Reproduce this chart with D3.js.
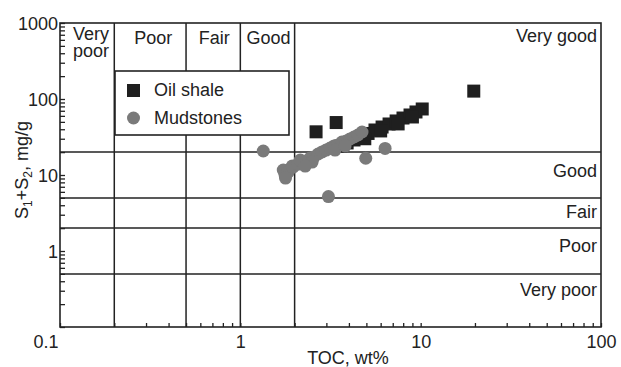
<!DOCTYPE html>
<html>
<head>
<meta charset="utf-8">
<script src="https://cdn.jsdelivr.net/npm/d3@7"></script>
<style>
  body { margin: 0; background: #fff; }
  text { font-family: "Liberation Sans", Arial, sans-serif; fill: #222; }
</style>
</head>
<body>
<div id="chart"></div>
<script>
// oil shale samples: TOC (wt%) and S1+S2 (mg/g)
var shaleToc = [19.7, 3.4, 2.63, 3.57, 3.91, 4.27, 4.67, 5.11, 5.58, 6.11, 6.68, 7.31, 7.98, 8.73, 9.42, 10.2, 4.9, 6.0, 7.5, 9.0];
var shaleS = [127, 49, 37, 24.0, 26.4, 28.9, 32.1, 35.2, 39.1, 42.8, 46.9, 51.4, 56.2, 61.6, 67.5, 73.9, 30, 38, 47, 58];

// mudstone samples
var mudToc = [1.34, 3.08, 4.96, 6.35, 1.77, 1.73, 1.84, 1.78, 1.94,
	1.96, 2.09, 2.20, 2.31, 2.44, 2.56, 2.70, 2.84, 2.99, 3.15, 3.31, 3.48, 3.66, 3.86, 4.06, 4.27, 4.49, 4.73,
	2.15, 2.50, 3.35, 3.81, 2.29];
var mudS = [20.7, 5.2, 16.6, 22.4, 10.0, 11.6, 10.9, 9.1, 13.1,
	12.7, 13.9, 14.4, 15.3, 16.7, 17.3, 18.9, 20.1, 21.3, 22.6, 24.1, 24.8, 27.2, 28.0, 29.8, 31.6, 33.6, 36.8,
	15.7, 14.8, 21.3, 24.1, 13.1];

// class boundaries
var tocLimits = [0.2, 0.5, 1, 2];
var sLimits = [20, 5, 2, 0.5];

var tocClasses = ["Poor", "Fair", "Good"];
var sClasses = ["Very good", "Good", "Fair", "Poor", "Very poor"];
var xTickLabels = ["0.1", "1", "10", "100"];
var yTickLabels = ["1", "10", "100", "1000"];

var width = 621, height = 367;
var pLeft = 60, pRight = 601, pTop = 23, pBottom = 327;
var ink = "#222";
var fs = 18;

var svg = d3.select("#chart").append("svg")
	.attr("width", width)
	.attr("height", height);

var x = d3.scaleLog().domain([0.1, 100]).range([pLeft, pRight]);
var y = d3.scaleLog().domain([0.1, 1000]).range([pBottom, pTop]);

// ticks
var xAxis = svg.append("g")
	.attr("transform", "translate(0," + pBottom + ")")
	.call(d3.axisBottom(x).tickSize(-4).tickPadding(7)
		.tickFormat(function(d) { var s = d3.format("~g")(d); return xTickLabels.indexOf(s) >= 0 ? s : ""; }));
var yAxis = svg.append("g")
	.attr("transform", "translate(" + pLeft + ",0)")
	.call(d3.axisLeft(y).tickSize(-5).tickPadding(2)
		.tickFormat(function(d) { var s = d3.format("~g")(d); return yTickLabels.indexOf(s) >= 0 ? s : ""; }));

[xAxis, yAxis].forEach(function(g) {
	g.select(".domain").remove();
	g.selectAll(".tick line").attr("stroke", ink).attr("stroke-width", 1.3);
	g.selectAll(".tick text").attr("font-size", fs).attr("fill", ink)
		.style("font-family", "'Liberation Sans', Arial, sans-serif");
});
xAxis.selectAll(".tick text").attr("dy", "0.8em");
xAxis.selectAll(".tick text").filter(function(d) { return d === 0.1; })
	.attr("text-anchor", "end").attr("dx", -2);
yAxis.selectAll(".tick text").attr("dy", "0.36em");

// class lines
svg.selectAll(".vline").data(tocLimits).enter().append("line")
	.attr("x1", function(d) { return x(d); })
	.attr("x2", function(d) { return x(d); })
	.attr("y1", pTop).attr("y2", pBottom)
	.attr("stroke", ink).attr("stroke-width", 1.5);
svg.selectAll(".hline").data(sLimits).enter().append("line")
	.attr("x1", pLeft).attr("x2", pRight)
	.attr("y1", function(d) { return y(d); })
	.attr("y2", function(d) { return y(d); })
	.attr("stroke", ink).attr("stroke-width", 1.5);

// frame
svg.append("rect")
	.attr("x", pLeft).attr("y", pTop)
	.attr("width", pRight - pLeft).attr("height", pBottom - pTop)
	.attr("fill", "none").attr("stroke", ink).attr("stroke-width", 1.6);

// class labels along the top
var topLabels = svg.append("g").attr("font-size", fs);
topLabels.append("text").attr("x", 73).attr("y", 40).text("Very");
topLabels.append("text").attr("x", 73).attr("y", 57).text("poor");
tocClasses.forEach(function(name, i) {
	topLabels.append("text")
		.attr("x", (x(tocLimits[i]) + x(tocLimits[i + 1])) / 2 + (i === 0 ? 3 : 1))
		.attr("y", 44)
		.attr("text-anchor", "middle")
		.text(name);
});

// class labels on the right
var rightY = [42, 177, 218, 252, 296];
sClasses.forEach(function(name, i) {
	svg.append("text")
		.attr("x", 597).attr("y", rightY[i])
		.attr("text-anchor", "end").attr("font-size", fs)
		.text(name);
});

// legend
svg.append("rect")
	.attr("x", 115).attr("y", 71).attr("width", 174).attr("height", 64)
	.attr("fill", "#fff").attr("stroke", ink).attr("stroke-width", 1.6);
svg.append("rect")
	.attr("x", 127).attr("y", 84).attr("width", 13).attr("height", 13)
	.attr("fill", "#1f1f1f");
svg.append("circle")
	.attr("cx", 133.5).attr("cy", 118).attr("r", 6.5)
	.attr("fill", "#7a7a7a");
svg.append("text").attr("x", 154).attr("y", 96).attr("font-size", fs).text("Oil shale");
svg.append("text").attr("x", 154).attr("y", 124).attr("font-size", fs).text("Mudstones");

// points
svg.selectAll(".shale").data(shaleToc).enter().append("rect")
	.attr("x", function(d) { return x(d) - 6.5; })
	.attr("y", function(d, i) { return y(shaleS[i]) - 6.5; })
	.attr("width", 13).attr("height", 13)
	.attr("fill", "#1f1f1f");

svg.selectAll(".mud").data(mudToc).enter().append("circle")
	.attr("cx", function(d) { return x(d); })
	.attr("cy", function(d, i) { return y(mudS[i]); })
	.attr("r", 6.5)
	.attr("fill", "#7a7a7a");

// axis titles
svg.append("text")
	.attr("x", 348).attr("y", 364)
	.attr("text-anchor", "middle").attr("font-size", fs)
	.text("TOC, wt%");

var yTitle = svg.append("text")
	.attr("transform", "translate(28,170) rotate(-90)")
	.attr("text-anchor", "middle").attr("font-size", fs);
yTitle.append("tspan").text("S");
yTitle.append("tspan").attr("font-size", 12).attr("dy", 4).text("1");
yTitle.append("tspan").attr("dy", -4).text("+S");
yTitle.append("tspan").attr("font-size", 12).attr("dy", 4).text("2");
yTitle.append("tspan").attr("dy", -4).text(", mg/g");
</script>
</body>
</html>
